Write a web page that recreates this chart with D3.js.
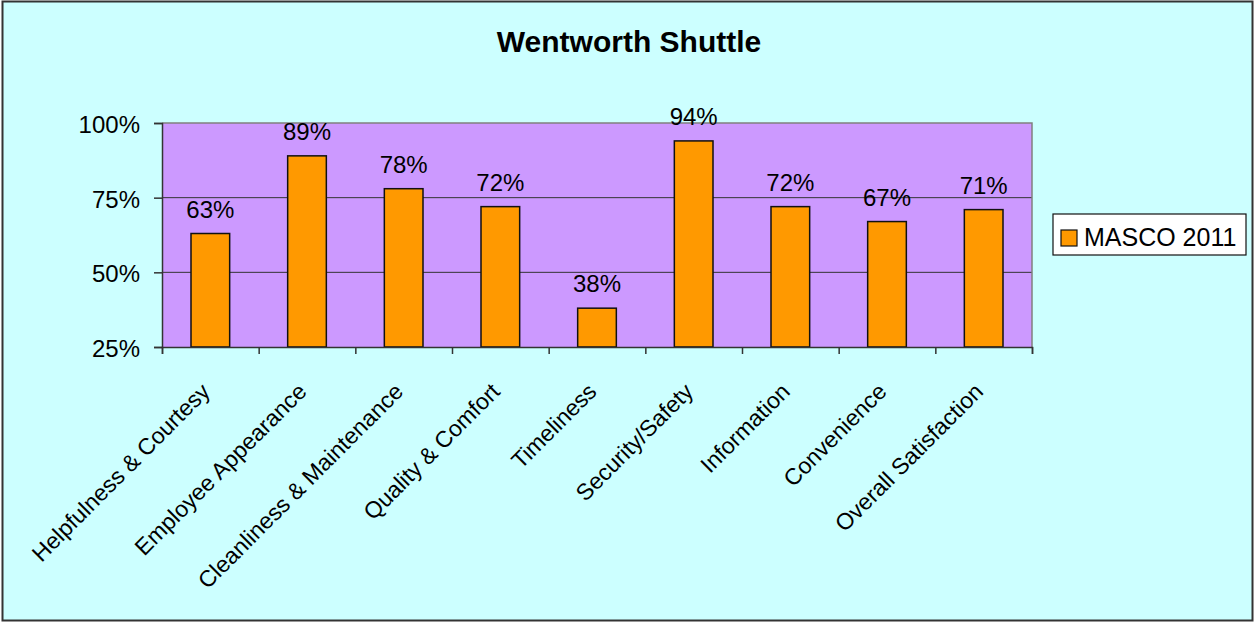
<!DOCTYPE html>
<html>
<head>
<meta charset="utf-8">
<script src="https://cdn.jsdelivr.net/npm/d3@7"></script>
<style>
  body { margin: 0; background: #fff; }
  svg { display: block; font-family: "Liberation Sans", Arial, sans-serif; }
</style>
</head>
<body>
<svg id="chart" width="1255" height="622"></svg>
<script>
// data
const categories = [
  "Helpfulness & Courtesy", "Employee Appearance", "Cleanliness & Maintenance",
  "Quality & Comfort", "Timeliness", "Security/Safety", "Information",
  "Convenience", "Overall Satisfaction"
];
const values = [0.63, 0.89, 0.78, 0.72, 0.38, 0.94, 0.72, 0.67, 0.71];
const yTicks = [0.25, 0.5, 0.75, 1.0];
const seriesName = "MASCO 2011";
const chartTitle = "Wentworth Shuttle";

const svg = d3.select("#chart");
const W = 1255, H = 622;
const plot = { left: 162, right: 1032, top: 123, bottom: 347 };

// chart background + frame
svg.append("rect")
  .attr("x", 2.5).attr("y", 1.5)
  .attr("width", W - 5).attr("height", H - 3)
  .attr("fill", "#CCFFFF")
  .attr("stroke", "#333")
  .attr("stroke-width", 2);

const x = d3.scaleBand()
  .domain(categories)
  .range([plot.left, plot.right])
  .paddingInner(0.6)
  .paddingOuter(0.3);

const xTickScale = d3.scaleLinear()
  .domain([0, categories.length])
  .range([plot.left, plot.right]);

const y = d3.scaleLinear()
  .domain([0.25, 1.0])
  .range([plot.bottom, plot.top]);

// plot area
svg.append("rect")
  .attr("x", plot.left).attr("y", plot.top)
  .attr("width", plot.right - plot.left)
  .attr("height", plot.bottom - plot.top)
  .attr("fill", "#CC99FF");

// gridlines
svg.append("g")
  .selectAll("line")
  .data(yTicks.filter(t => t > 0.25 && t < 1))
  .join("line")
  .attr("x1", plot.left).attr("x2", plot.right)
  .attr("y1", d => y(d)).attr("y2", d => y(d))
  .attr("stroke", "#333")
  .attr("stroke-width", 1);

// plot border top/right (grey)
svg.append("path")
  .attr("d", `M${plot.left},${plot.top}H${plot.right}V${plot.bottom}`)
  .attr("fill", "none")
  .attr("stroke", "#808080")
  .attr("stroke-width", 1.5);

// bars
svg.append("g")
  .selectAll("rect")
  .data(values)
  .join("rect")
  .attr("x", (d, i) => x(categories[i]))
  .attr("y", d => y(d))
  .attr("width", x.bandwidth())
  .attr("height", d => y(0.25) - y(d))
  .attr("fill", "#FF9900")
  .attr("stroke", "#111")
  .attr("stroke-width", 1.5);

// value labels
svg.append("g")
  .selectAll("text")
  .data(values)
  .join("text")
  .attr("x", (d, i) => x(categories[i]) + x.bandwidth() / 2)
  .attr("y", d => y(d) - 16)
  .attr("text-anchor", "middle")
  .style("font-size", "24px")
  .attr("fill", "#000")
  .text(d => d3.format(".0%")(d));

// y axis
const yAxis = d3.axisLeft(y)
  .tickValues(yTicks)
  .tickSize(8)
  .tickPadding(14)
  .tickFormat(d3.format(".0%"));

const gy = svg.append("g")
  .attr("transform", `translate(${plot.left},0)`)
  .call(yAxis);
gy.select(".domain").attr("stroke", "#333").attr("stroke-width", 1.5);
gy.selectAll(".tick line").attr("stroke", "#333").attr("stroke-width", 1.5);
gy.selectAll(".tick text")
  .attr("fill", "#000")
  .style("font-size", "24px")
  .style("font-family", "'Liberation Sans', Arial, sans-serif")
  .attr("dy", "0.4em");

// x axis (ticks between categories)
const xAxis = d3.axisBottom(xTickScale)
  .tickValues(d3.range(categories.length + 1))
  .tickSize(7)
  .tickFormat("");
const gx = svg.append("g")
  .attr("transform", `translate(0,${plot.bottom})`)
  .call(xAxis);
gx.select(".domain").attr("stroke", "#333").attr("stroke-width", 1.5);
gx.selectAll(".tick line").attr("stroke", "#333").attr("stroke-width", 1.5);

// rotated category labels
svg.append("g")
  .selectAll("text")
  .data(categories)
  .join("text")
  .attr("transform", d => `translate(${x(d) + x.bandwidth() / 2 + 1},${plot.bottom + 46}) rotate(-45)`)
  .attr("text-anchor", "end")
  .style("font-size", "23px")
  .attr("fill", "#000")
  .text(d => d);

// title
svg.append("text")
  .attr("x", 629).attr("y", 52)
  .attr("text-anchor", "middle")
  .style("font-size", "30px")
  .style("font-weight", "bold")
  .attr("fill", "#000")
  .text(chartTitle);

// legend
const lg = svg.append("g").attr("transform", "translate(1053,214)");
lg.append("rect")
  .attr("width", 193).attr("height", 41)
  .attr("fill", "#fff")
  .attr("stroke", "#111")
  .attr("stroke-width", 1.2);
lg.append("rect")
  .attr("x", 8).attr("y", 16)
  .attr("width", 16).attr("height", 16)
  .attr("fill", "#FF9900")
  .attr("stroke", "#111")
  .attr("stroke-width", 1.2);
lg.append("text")
  .attr("x", 31).attr("y", 32)
  .style("font-size", "25px")
  .attr("fill", "#000")
  .text(seriesName);
</script>
</body>
</html>
